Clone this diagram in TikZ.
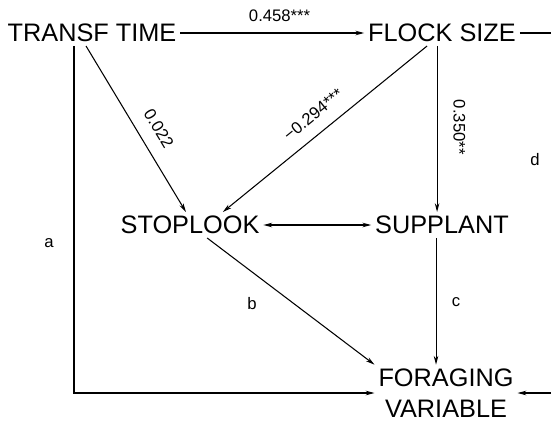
\documentclass[tikz,border=0pt]{standalone}
\usepackage{fontspec}
\setmainfont{Liberation Sans}
\usetikzlibrary{arrows.meta,calc}

\begin{document}
\begin{tikzpicture}[x=0.02cm,y=0.02cm,>={Stealth[length=5pt,width=2.6pt]},line width=0.6pt,
  var/.style={inner sep=2pt,font=\fontsize{14.4}{17.6}\selectfont},
  coef/.style={inner sep=2pt,font=\fontsize{9.5}{11}\selectfont}]
  \useasboundingbox (0,-423) rectangle (551,0);
  % variables
  \node[var] (tt) at (92,-33) {TRANSF TIME};
  \node[var] (fs) at (442,-33) {FLOCK SIZE};
  \node[var] (st) at (190,-225) {STOPLOOK};
  \node[var] (sp) at (442,-225) {SUPPLANT};
  \node[var,align=center] (fv) at (446,-393) {FORAGING\\VARIABLE};
  \coordinate (outtop) at (551,-33);
  \coordinate (outbot) at (551,-393);
  \coordinate (corner) at (74,-393);
  % paths
  \draw[->] (tt) -- node[coef,above=4pt,pos=0.54] {0.458***} (fs);
  \draw (fs) -- (outtop);
  \draw[->] ([xshift=-3.4pt]tt.south) -- node[coef,sloped,above=5.5pt,pos=0.56] {0.022} ([xshift=-2.3pt]st.north);
  \draw[->] ([xshift=-8.5pt]fs.south) -- node[coef,sloped,above=5pt,pos=0.5] {−0.294***} ([xshift=18.7pt]st.north);
  \draw[->] ([xshift=-2.8pt]fs.south) -- node[coef,sloped,above=7pt,pos=0.49] {0.350**} ([xshift=-2.8pt]sp.north);
  \draw[<->] (st) -- (sp);
  \draw[->] (st) -- (fv.north west);
  \draw[->] ([xshift=-3.4pt]sp.south) -- ([xshift=-3.4pt]sp.south |- fv.north);
  \draw[->] (tt.south -| corner) |- (fv.west);
  \draw[->] (outbot) -- (fv.east);
  % residual labels
  \node[coef] (la) at (49,-243) {a};
  \node[coef] (lb) at (252,-304) {b};
  \node[coef] (lc) at (456,-302) {c};
  \node[coef] (ld) at (535,-160) {d};
\end{tikzpicture}
\end{document}
